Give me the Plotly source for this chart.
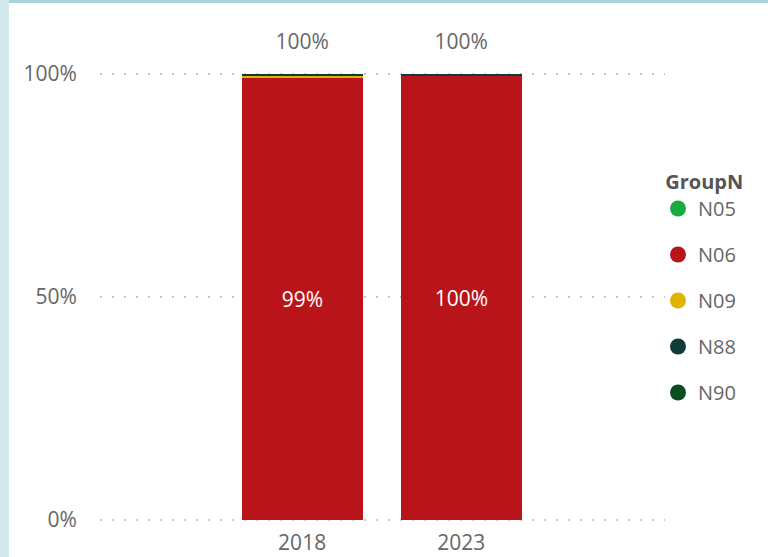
import plotly.graph_objects as go

# Share of records per group, by year (percent)
years = ["2018", "2023"]
groups = ["N05", "N06", "N09", "N88", "N90"]
n05 = [0.0, 0.0]
n06 = [99.2, 99.7]
n09 = [0.6, 0.0]
n88 = [0.2, 0.3]
n90 = [0.0, 0.0]
y_ticks = [0, 50, 100]
y_tick_labels = ["0%", "50%", "100%"]

colors = {
    "N05": "#1aab40",
    "N06": "#b9141a",
    "N09": "#dfb400",
    "N88": "#0e3c38",
    "N90": "#0b4d1f",
}
series = {"N05": n05, "N06": n06, "N09": n09, "N88": n88, "N90": n90}

FONT = "Open Sans, sans-serif"
TXT = "#666666"
W, H = 768, 557
ML, MR, MT, MB = 100, 103, 73, 36
PW, PH = W - ML - MR, H - MT - MB

fig = go.Figure()

for g in groups:
    vals = series[g]
    text = [f"{v:.0f}%" if g == "N06" else "" for v in vals]
    fig.add_trace(go.Bar(
        x=years, y=vals, name=g, marker=dict(color=colors[g], line=dict(width=0)),
        width=0.76, text=text, textposition="inside", insidetextanchor="middle",
        insidetextfont=dict(color="white", size=21, family=FONT),
        textangle=0, constraintext="none",
        showlegend=False, hoverinfo="skip",
    ))

# Totals above each column (transparent marker lifts the label off the bar top)
totals = [sum(series[g][i] for g in groups) for i in range(len(years))]
fig.add_trace(go.Scatter(
    x=years, y=totals, mode="markers+text", text=[f"{t:.0f}%" for t in totals],
    textposition="top center", textfont=dict(color=TXT, size=21, family=FONT),
    marker=dict(size=30, color="rgba(0,0,0,0)"),
    showlegend=False, cliponaxis=False, hoverinfo="skip",
))

# Legend entries with round markers
for g in groups:
    fig.add_trace(go.Scatter(
        x=[None], y=[None], mode="markers", name=g, legendgroup=g,
        marker=dict(color=colors[g], size=19, symbol="circle"),
    ))

# Frame strips on the left and top edges
def px_x(p):
    return (p - ML) / PW

def px_y(p):
    return (H - MB - p) / PH

fig.add_shape(type="rect", xref="paper", yref="paper",
              x0=px_x(0), x1=px_x(9), y0=px_y(H), y1=px_y(0),
              fillcolor="#d0e8eb", line=dict(width=0), layer="below")
fig.add_shape(type="rect", xref="paper", yref="paper",
              x0=px_x(9), x1=px_x(W), y0=px_y(3), y1=px_y(0),
              fillcolor="#a8d4d9", line=dict(width=0), layer="below")

fig.update_layout(
    width=W, height=H,
    margin=dict(l=ML, r=MR, t=MT, b=MB, autoexpand=False),
    barmode="stack", bargap=0,
    paper_bgcolor="white", plot_bgcolor="white",
    font=dict(family=FONT, color=TXT, size=20),
    legend=dict(
        title=dict(text="&nbsp;<b>GroupN</b>",
                   font=dict(size=20, color="#555555", family=FONT)),
        x=px_x(658), y=px_y(163), xanchor="left", yanchor="top",
        font=dict(size=20, color=TXT, family=FONT),
        tracegroupgap=17, itemwidth=30, bgcolor="rgba(0,0,0,0)",
    ),
    xaxis=dict(
        type="category", range=[-1.27, 2.28], showgrid=False, zeroline=False,
        showline=False, ticks="outside", ticklen=3, tickcolor="rgba(0,0,0,0)",
        tickfont=dict(size=21, color=TXT, family=FONT), automargin=False,
    ),
    yaxis=dict(
        range=[-0.25, 100.25], tickvals=y_ticks, ticktext=y_tick_labels,
        showgrid=True, gridcolor="#c8c8c8", griddash="2px,10px", gridwidth=1.5,
        zeroline=False, showline=False, ticks="outside", ticklen=18,
        tickcolor="rgba(0,0,0,0)", automargin=False,
        tickfont=dict(size=21, color=TXT, family=FONT),
    ),
)

fig.write_html("out.html")
